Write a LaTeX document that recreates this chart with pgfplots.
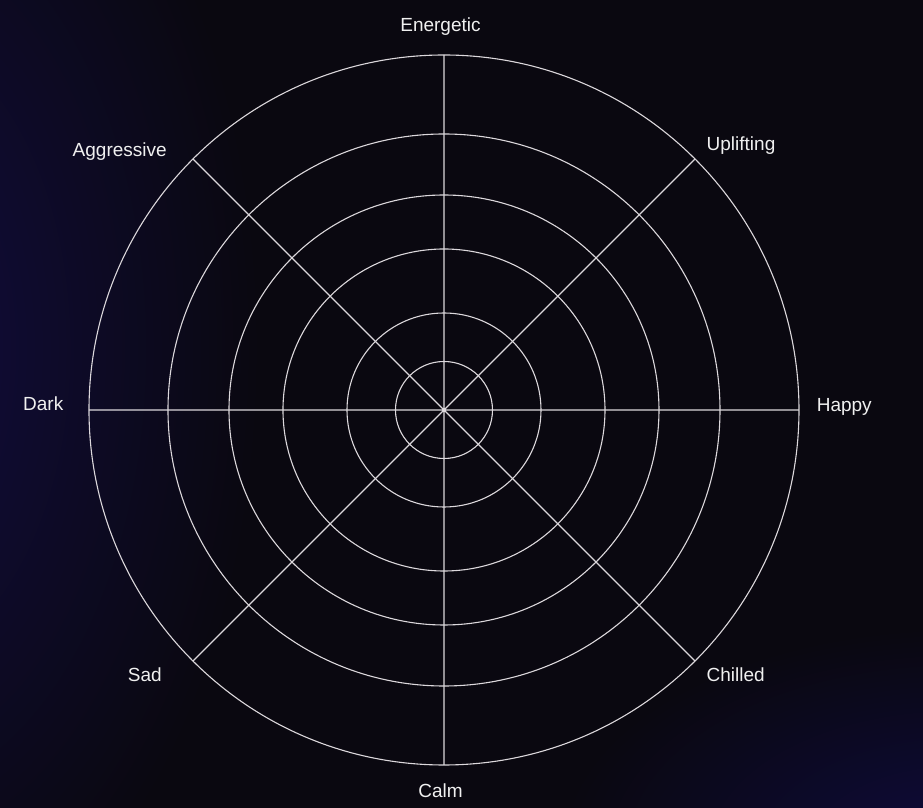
\documentclass[border=0pt]{standalone}
\usepackage{fontspec}
\setmainfont{Liberation Sans}
\usepackage{pgfplots}
\pgfplotsset{compat=1.18}
\usepgfplotslibrary{polar}
\definecolor{bgbase}{HTML}{0A0810}
\definecolor{glowL}{HTML}{110D40}
\definecolor{glowR}{HTML}{0E0B3C}
\definecolor{gridc}{HTML}{DCD8DC}
\definecolor{txt}{HTML}{F0F0F0}
\tikzset{lab/.style={font=\fontsize{9.5pt}{11pt}\selectfont, text=txt, inner sep=0pt, outer sep=0pt}}
\begin{document}
\begin{tikzpicture}
\begin{scope}
\clip (0,0) rectangle (461.5pt,404pt);
\fill[bgbase] (0,0) rectangle (461.5pt,404pt);
\shade[inner color=glowL, outer color=bgbase] (-60pt,230pt) ellipse (190pt and 320pt);
\shade[inner color=glowR, outer color=bgbase] (480pt,-20pt) ellipse (200pt and 110pt);
\end{scope}
\useasboundingbox (0,0) rectangle (461.5pt,404pt);
\begin{polaraxis}[
  scale only axis,
  width=355pt, height=355pt,
  at={(222pt,199pt)}, anchor=center,
  ymin=0, ymax=355,
  xtick={0,45,...,315},
  xticklabels={},
  ytick={48.5,97,161,215,276},
  yticklabels={},
  major tick length=0pt,
  grid=major,
  major grid style={draw=gridc, line width=0.55pt},
  x axis line style={draw=gridc, line width=0.55pt},
  y axis line style={draw=none},
  clip=false,
]
\addplot[draw=none] coordinates {(0,0)};
\node[lab, anchor=base west] at ([shift={(186.4pt,-0.85pt)}]axis cs:0,0) {Happy};
\node[lab, anchor=base west] at ([shift={(131.35pt,129.5pt)}]axis cs:0,0) {Uplifting};
\node[lab, anchor=base] at ([shift={(-1.75pt,189.15pt)}]axis cs:0,0) {Energetic};
\node[lab, anchor=base east] at ([shift={(-138.65pt,126.65pt)}]axis cs:0,0) {Aggressive};
\node[lab, anchor=base east] at ([shift={(-190.35pt,-0.5pt)}]axis cs:0,0) {Dark};
\node[lab, anchor=base east] at ([shift={(-141.15pt,-135.85pt)}]axis cs:0,0) {Sad};
\node[lab, anchor=base] at ([shift={(-1.75pt,-193.65pt)}]axis cs:0,0) {Calm};
\node[lab, anchor=base west] at ([shift={(131.35pt,-135.85pt)}]axis cs:0,0) {Chilled};
\end{polaraxis}
\end{tikzpicture}
\end{document}
